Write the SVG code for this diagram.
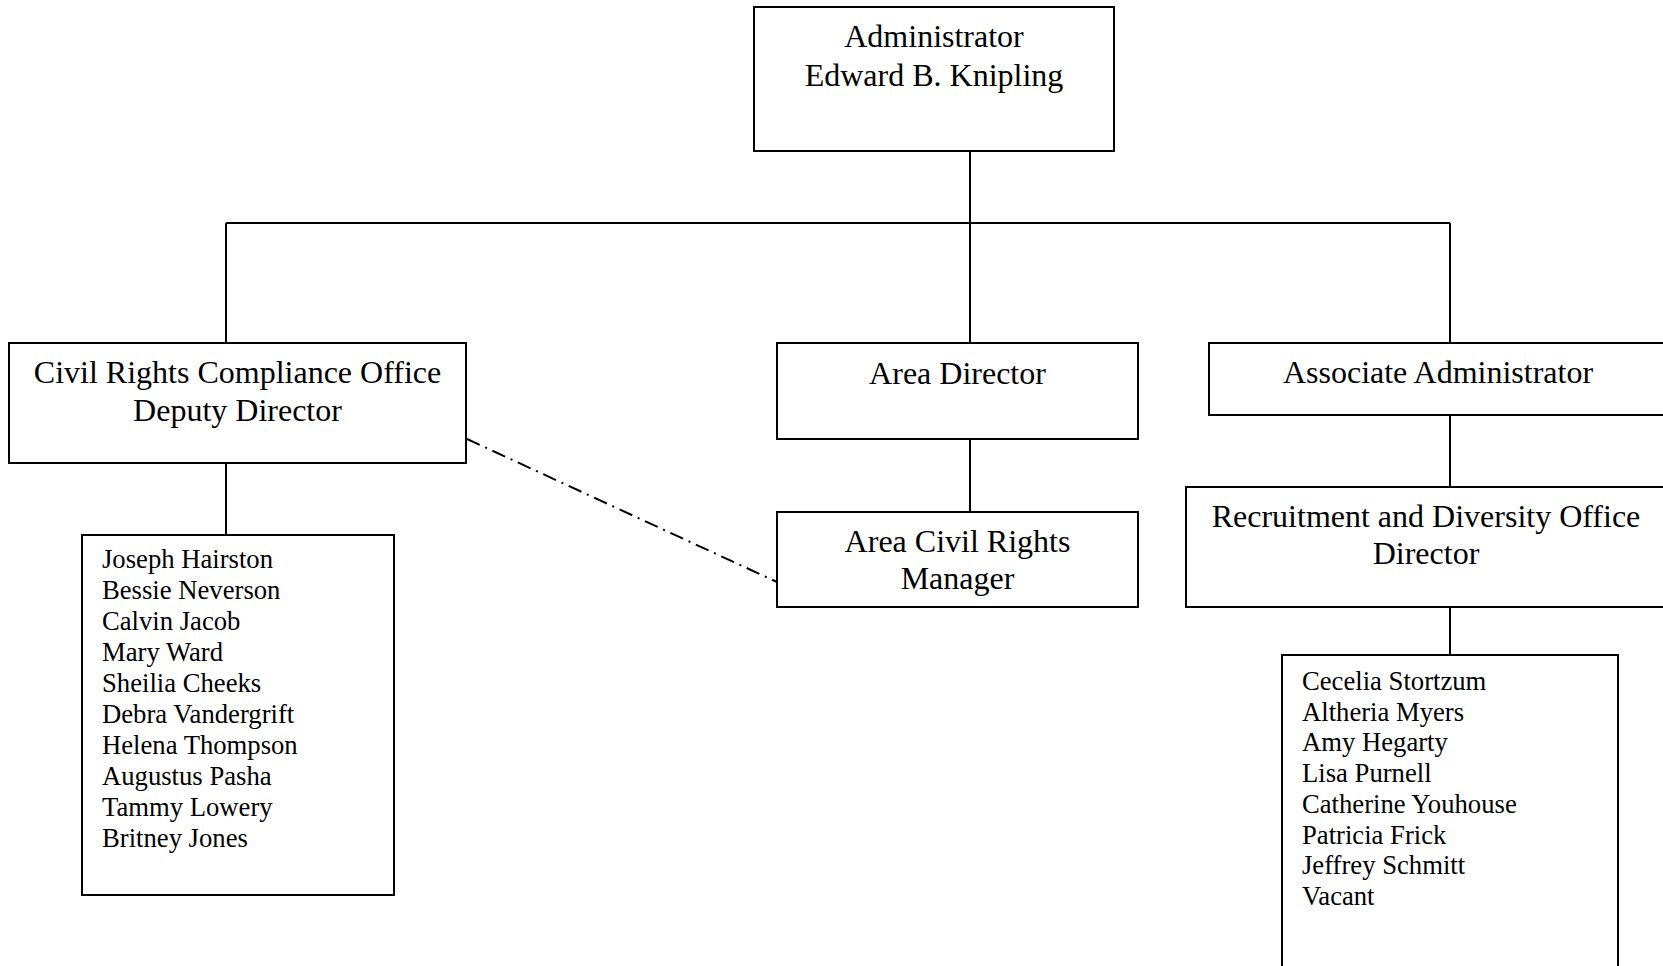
<svg xmlns="http://www.w3.org/2000/svg" width="1663" height="966" viewBox="0 0 1663 966">
<style>
.box{fill:#fff;stroke:#000;stroke-width:2}
.ln{fill:none;stroke:#000;stroke-width:2}
.dd{fill:none;stroke:#000;stroke-width:2;stroke-dasharray:14 6 2 6}
.t{font-family:"Liberation Serif","Times New Roman",serif;font-size:32px;fill:#000;text-anchor:middle}
.n{font-family:"Liberation Serif","Times New Roman",serif;font-size:26.67px;fill:#000}
</style>
<rect width="1663" height="966" fill="#fff"/>
<g id="connectors">
<line class="ln" x1="970" y1="151" x2="970" y2="343"/>
<line class="ln" x1="226" y1="223" x2="1450" y2="223"/>
<line class="ln" x1="226" y1="223" x2="226" y2="343"/>
<line class="ln" x1="1450" y1="223" x2="1450" y2="343"/>
<line class="ln" x1="226" y1="463" x2="226" y2="535"/>
<line class="ln" x1="970" y1="439" x2="970" y2="512"/>
<line class="ln" x1="1450" y1="415" x2="1450" y2="487"/>
<line class="ln" x1="1450" y1="607" x2="1450" y2="655"/>
<line class="dd" x1="467" y1="439" x2="777" y2="582"/>
</g>
<g id="administrator">
<rect class="box" x="754" y="7" width="360" height="144"/>
<text class="t" x="934" y="47">Administrator</text>
<text class="t" x="934" y="86">Edward B. Knipling</text>
</g>
<g id="crco">
<rect class="box" x="9" y="343" width="457" height="120"/>
<text class="t" x="237.5" y="383">Civil Rights Compliance Office</text>
<text class="t" x="237.5" y="421">Deputy Director</text>
</g>
<g id="area-director">
<rect class="box" x="777" y="343" width="361" height="96"/>
<text class="t" x="957.5" y="384">Area Director</text>
</g>
<g id="assoc-admin">
<rect class="box" x="1209" y="343" width="458" height="72"/>
<text class="t" x="1438" y="383">Associate Administrator</text>
</g>
<g id="acrm">
<rect class="box" x="777" y="512" width="361" height="95"/>
<text class="t" x="957.5" y="552">Area Civil Rights</text>
<text class="t" x="957.5" y="589">Manager</text>
</g>
<g id="rdo">
<rect class="box" x="1186" y="487" width="480" height="120"/>
<text class="t" x="1426" y="527">Recruitment and Diversity Office</text>
<text class="t" x="1426" y="564">Director</text>
</g>
<g id="crco-staff">
<rect class="box" x="82" y="535" width="312" height="360"/>
<text class="n" x="102" y="568">Joseph Hairston</text>
<text class="n" x="102" y="599">Bessie Neverson</text>
<text class="n" x="102" y="630">Calvin Jacob</text>
<text class="n" x="102" y="661">Mary Ward</text>
<text class="n" x="102" y="692">Sheilia Cheeks</text>
<text class="n" x="102" y="723">Debra Vandergrift</text>
<text class="n" x="102" y="754">Helena Thompson</text>
<text class="n" x="102" y="785">Augustus Pasha</text>
<text class="n" x="102" y="816">Tammy Lowery</text>
<text class="n" x="102" y="847">Britney Jones</text>
</g>
<g id="rdo-staff">
<rect class="box" x="1282" y="655" width="336" height="330"/>
<text class="n" x="1302" y="690">Cecelia Stortzum</text>
<text class="n" x="1302" y="720.7">Altheria Myers</text>
<text class="n" x="1302" y="751.4">Amy Hegarty</text>
<text class="n" x="1302" y="782.1">Lisa Purnell</text>
<text class="n" x="1302" y="812.8">Catherine Youhouse</text>
<text class="n" x="1302" y="843.5">Patricia Frick</text>
<text class="n" x="1302" y="874.2">Jeffrey Schmitt</text>
<text class="n" x="1302" y="904.9">Vacant</text>
</g>
</svg>
